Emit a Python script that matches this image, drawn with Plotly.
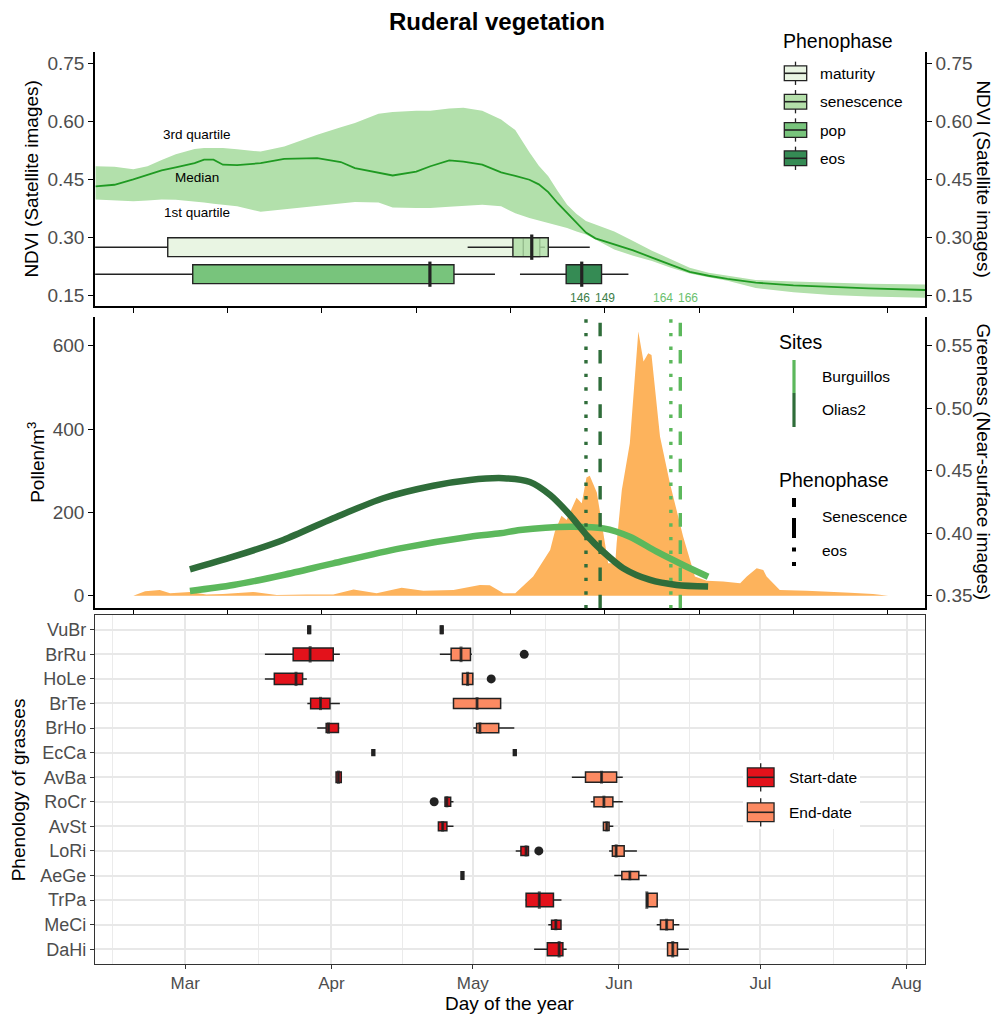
import plotly.graph_objects as go

W, H = 994, 1015
FONT = "Liberation Sans, Arial, sans-serif"


def fx(x):
    return x / W


def fy(y):
    return 1 - y / H


# ---------------- DATA ----------------
# Top panel: NDVI (satellite) by day of year
ndvi_doy = [42, 46, 50, 53, 56, 59, 63, 65, 67, 69, 72, 77, 82, 89, 94, 97, 102, 105, 110, 113,
            117, 120, 124, 128, 131, 134, 136, 138, 140, 142, 144, 146, 148, 152, 156, 160, 164,
            168, 172, 176, 182, 190, 198, 206, 218]
ndvi_median = [0.432, 0.436, 0.450, 0.461, 0.473, 0.481, 0.492, 0.501, 0.501, 0.488, 0.487, 0.492,
               0.503, 0.505, 0.495, 0.479, 0.467, 0.460, 0.470, 0.484, 0.499, 0.496, 0.488, 0.468,
               0.459, 0.449, 0.437, 0.417, 0.388, 0.362, 0.337, 0.312, 0.297, 0.281, 0.266, 0.247,
               0.228, 0.210, 0.200, 0.192, 0.182, 0.175, 0.171, 0.167, 0.163]
ndvi_q3 = [0.484, 0.483, 0.476, 0.484, 0.500, 0.515, 0.529, 0.531, 0.531, 0.531, 0.528, 0.522,
           0.535, 0.566, 0.585, 0.596, 0.620, 0.625, 0.628, 0.628, 0.634, 0.636, 0.628, 0.605,
           0.578, 0.520, 0.485, 0.458, 0.420, 0.384, 0.360, 0.342, 0.333, 0.315, 0.290, 0.265,
           0.243, 0.221, 0.208, 0.200, 0.189, 0.185, 0.182, 0.179, 0.177]
ndvi_q1 = [0.398, 0.396, 0.393, 0.395, 0.398, 0.397, 0.393, 0.390, 0.387, 0.384, 0.380, 0.366,
           0.372, 0.380, 0.387, 0.391, 0.390, 0.377, 0.376, 0.376, 0.379, 0.381, 0.384, 0.380,
           0.362, 0.350, 0.344, 0.338, 0.330, 0.324, 0.315, 0.307, 0.294, 0.268, 0.252, 0.238,
           0.221, 0.206, 0.196, 0.187, 0.168, 0.157, 0.150, 0.146, 0.143]

# Phenophase boxplots (day of year)
pheno_names = ["maturity", "senescence", "pop", "eos"]
pheno_low = [41.9, 120.9, 41.9, 132.0]
pheno_q1 = [57.3, 130.5, 62.6, 141.8]
pheno_med = [132.7, 134.5, 112.9, 145.1]
pheno_q3 = [136.2, 138.0, 118.0, 149.3]
pheno_high = [137.3, 146.8, 126.7, 155.0]
pheno_row = [0.274, 0.274, 0.204, 0.204]

# Near-surface phenophase dates (Olias2 / Burguillos)
site_phase_doy = [146, 149, 164, 166]
site_phase_site = ["Olias2", "Olias2", "Burguillos", "Burguillos"]
site_phase_kind = ["eos", "Senescence", "eos", "Senescence"]

# Middle panel: pollen concentration
pollen_doy = [50, 52.5, 55.6, 57.8, 62, 65.5, 69, 75.4, 80.4, 86.8, 92.4, 96.7, 101.6, 106.9,
              111.5, 117.9, 123.5, 125.6, 128.5, 131, 134.8, 138.4, 139.4, 140.8, 141.9, 144,
              145.1, 146.1, 146.8, 148.3, 150.0, 150.7, 152.2, 152.5, 153.6, 155.3, 157.1, 158.2,
              159.2, 159.9, 161.7, 163.8, 166.6, 169.1, 171.6, 175.1, 178.7, 180.1, 182.2, 183.6,
              184.3, 187.1, 192.8, 196.3, 202, 206.9, 210.1]
pollen_conc = [0, 11, 14, 6, 9, 3, 4, 9, 2, 3, 3, 15, 6, 19, 12, 14, 26, 25, 6, 6, 46, 110, 154,
               192, 182, 235, 222, 284, 288, 248, 128, 78, 78, 126, 254, 366, 634, 562, 582, 578,
               382, 270, 142, 46, 36, 34, 30, 46, 66, 62, 46, 14, 12, 10, 7, 4, 0]

# Greenness (near-surface images)
olias_doy = [62, 71.2, 81.8, 92.4, 103, 113.6, 121.4, 128.5, 134.1, 138.4, 142.6, 146.1, 149.7,
             153.9, 159.6, 165.2, 171.9]
olias_green = [0.3711, 0.3812, 0.3946, 0.4120, 0.4280, 0.4380, 0.4426, 0.4440, 0.4410, 0.4306,
               0.4146, 0.3986, 0.3850, 0.3720, 0.3626, 0.3586, 0.3573]
burg_doy = [62, 71.2, 81.8, 92.4, 106.6, 121.4, 127.8, 132, 142.6, 149.7, 155.3, 161, 166.6, 171.9]
burg_green = [0.3538, 0.3586, 0.3666, 0.3759, 0.3879, 0.3972, 0.3999, 0.4026, 0.4052, 0.4039,
              0.3972, 0.3852, 0.3746, 0.3652]

# Bottom panel: phenology of grasses
grass_species = ["VuBr", "BrRu", "HoLe", "BrTe", "BrHo", "EcCa", "AvBa", "RoCr", "AvSt", "LoRi",
                 "AeGe", "TrPa", "MeCi", "DaHi"]
start_low = [87.0, 77.9, 77.9, 86.9, 89.0, 100.6, 93.0, 116.1, 114.7, 131.1, 119.5, 133.1, 138.0, 135.0]
start_q1 = [87.0, 83.9, 79.9, 87.6, 90.9, 100.6, 93.0, 116.1, 114.7, 132.2, 119.5, 133.3, 138.7, 137.8]
start_med = [87.3, 87.5, 84.5, 89.7, 91.4, 100.9, 93.5, 116.5, 115.6, 133.3, 119.8, 136.1, 139.6, 140.3]
start_q3 = [87.6, 92.4, 85.9, 91.7, 93.5, 101.2, 94.1, 117.3, 116.5, 133.8, 120.1, 139.1, 140.7, 141.1]
start_high = [87.6, 93.8, 86.8, 93.8, 93.7, 101.2, 94.1, 117.9, 117.9, 133.8, 120.1, 140.8, 140.8, 141.9]

end_low = [115.1, 115.0, 119.8, 117.9, 122.1, 130.6, 143.0, 147.0, 149.7, 150.9, 152.0, 158.9, 161.0, 163.3]
end_q1 = [115.1, 117.4, 119.8, 117.9, 122.8, 130.6, 145.9, 147.7, 149.7, 151.6, 153.6, 158.9, 161.8, 163.3]
end_med = [115.4, 119.5, 120.9, 122.9, 123.5, 130.9, 149.3, 149.8, 150.4, 152.4, 155.3, 158.9, 163.1, 164.4]
end_q3 = [115.7, 121.5, 122.0, 127.9, 127.5, 131.2, 152.5, 151.7, 150.9, 154.1, 157.2, 161.1, 164.5, 165.4]
end_high = [115.7, 121.8, 122.0, 127.9, 130.8, 131.2, 153.8, 153.8, 151.8, 156.8, 158.9, 161.1, 165.8, 167.8]

outlier_species = ["BrRu", "HoLe", "RoCr", "LoRi"]
outlier_doy = [132.9, 125.9, 113.8, 136.0]

month_labels = ["Mar", "Apr", "May", "Jun", "Jul", "Aug"]
month_doy = [61, 92, 122, 153, 183, 214]
month_minor = [45.5, 76.5, 107, 137.5, 168, 198.5]
top_ticks = list(range(50, 211, 20))

# ---------------- STYLE ----------------
RIB = "#b2e0ab"
MED = "#1f9a22"
PHENO_FILL = ["#e9f5e3", "rgba(176,222,166,0.82)", "#78c47c", "#358b54"]
PHENO_KEY = ["#e9f5e3", "#b4dfaa", "#78c47c", "#358b54"]
OLIAS = "#2f6d3a"
BURG = "#5cb85c"
POLLEN = "#fdb35c"
START = "#e3121b"
END = "#fc8a62"
EDGE = "#222222"
TICK = "#4d4d4d"
ROW_PX = 24.58  # pixel height of one category row in the bottom panel
# box heights (varwidth look) in pixels, per species
start_box_px = [7.5, 12.8, 11.2, 10.5, 9.0, 5.8, 10.5, 9.0, 8.6, 9.0, 7.5, 13.5, 9.0, 12.8]
end_box_px = [7.5, 12.2, 11.2, 10.2, 9.2, 5.8, 10.2, 9.8, 8.2, 10.5, 7.8, 13.5, 9.5, 12.8]

XR = [41.87, 217.9]
XD = [fx(95), fx(925)]

fig = go.Figure()

# ---- top panel ----
fig.add_trace(go.Scatter(x=ndvi_doy, y=ndvi_q3, mode="lines", line=dict(width=0, color=RIB),
                         xaxis="x", yaxis="y", hoverinfo="skip"))
fig.add_trace(go.Scatter(x=ndvi_doy, y=ndvi_q1, mode="lines", line=dict(width=0, color=RIB),
                         fill="tonexty", fillcolor=RIB, xaxis="x", yaxis="y", hoverinfo="skip"))
for i, name in enumerate(pheno_names):
    fig.add_trace(go.Box(y=[pheno_row[i]], q1=[pheno_q1[i]], median=[pheno_med[i]],
                         q3=[pheno_q3[i]], lowerfence=[pheno_low[i]], upperfence=[pheno_high[i]],
                         orientation="h", width=0.049, fillcolor=PHENO_FILL[i],
                         line=dict(color=EDGE, width=1.4), whiskerwidth=0, boxpoints=False,
                         name=name, xaxis="x", yaxis="y"))
# thick medians (maturity median stays faint beneath the senescence box)
fig.add_trace(go.Scatter(x=pheno_med[1:], y=pheno_row[1:], mode="markers",
                         marker=dict(symbol="line-ns", size=18, line=dict(width=3.2, color=EDGE)),
                         xaxis="x", yaxis="y2", hoverinfo="skip"))
fig.add_trace(go.Scatter(x=ndvi_doy, y=ndvi_median, mode="lines", line=dict(width=1.8, color=MED),
                         xaxis="x", yaxis="y2", hoverinfo="skip"))

# ---- middle panel ----
fig.add_trace(go.Scatter(x=pollen_doy, y=pollen_conc, mode="none", fill="tozeroy",
                         fillcolor=POLLEN, xaxis="x2", yaxis="y3", hoverinfo="skip"))
fig.add_trace(go.Scatter(x=burg_doy, y=burg_green, mode="lines",
                         line=dict(width=6.5, color=BURG, shape="spline", smoothing=0.8),
                         xaxis="x2", yaxis="y4", hoverinfo="skip"))
fig.add_trace(go.Scatter(x=olias_doy, y=olias_green, mode="lines",
                         line=dict(width=6.5, color=OLIAS, shape="spline", smoothing=0.8),
                         xaxis="x2", yaxis="y4", hoverinfo="skip"))

# ---- bottom panel ----
phases = [
    (start_low, start_q1, start_med, start_q3, start_high, START, start_box_px),
    (end_low, end_q1, end_med, end_q3, end_high, END, end_box_px),
]
for lo, q1, md, q3, hi, col, hpx in phases:
    for j, sp in enumerate(grass_species):
        fig.add_trace(go.Box(y=[sp], q1=[q1[j]], median=[md[j]], q3=[q3[j]],
                             lowerfence=[lo[j]], upperfence=[hi[j]], orientation="h",
                             width=hpx[j] / ROW_PX, fillcolor=col,
                             line=dict(color=EDGE, width=1.5), whiskerwidth=0,
                             boxpoints=False, xaxis="x3", yaxis="y5"))
fig.add_trace(go.Scatter(x=start_med + end_med, y=grass_species + grass_species, mode="markers",
                         marker=dict(symbol="line-ns", size=[h - 1 for h in start_box_px + end_box_px],
                                     line=dict(width=3, color=EDGE)),
                         xaxis="x3", yaxis="y5", hoverinfo="skip"))
fig.add_trace(go.Scatter(x=outlier_doy, y=outlier_species, mode="markers",
                         marker=dict(size=9, color=EDGE), xaxis="x3", yaxis="y5", hoverinfo="skip"))

# ---------------- SHAPES / ANNOTATIONS ----------------
shapes = []
ann = []

for d, site, kind in zip(site_phase_doy, site_phase_site, site_phase_kind):
    col = OLIAS if site == "Olias2" else BURG
    dash = "3.4px,10.2px" if kind == "eos" else "13.6px,13.6px"
    shapes.append(dict(type="line", xref="x2", yref="y3 domain", x0=d, x1=d, y0=0, y1=1,
                       line=dict(color=col, width=3.4, dash=dash), layer="above"))

lab_shift = [-6, 5, -7.5, 8]
for d, site, sh in zip(site_phase_doy, site_phase_site, lab_shift):
    col = "#3b7d47" if site == "Olias2" else "#6abf6e"
    ann.append(dict(xref="x", yref="y", x=d, y=0.143, xshift=sh, text=str(d), showarrow=False,
                    xanchor="center", yanchor="middle", font=dict(family=FONT, size=12, color=col)))

for s, yv in zip(["3rd quartile", "Median", "1st quartile"], [0.567, 0.454, 0.365]):
    ann.append(dict(xref="x", yref="y", x=63.5, y=yv, text=s, showarrow=False, xanchor="center",
                    yanchor="middle", font=dict(family=FONT, size=13.5, color="black")))


def rect(x0, y0, x1, y1, fill, lc=EDGE, lw=1.3):
    shapes.append(dict(type="rect", xref="paper", yref="paper", x0=fx(x0), x1=fx(x1),
                       y0=fy(y1), y1=fy(y0), fillcolor=fill, line=dict(color=lc, width=lw),
                       layer="above"))


def seg(x0, y0, x1, y1, color, w):
    shapes.append(dict(type="line", xref="paper", yref="paper", x0=fx(x0), y0=fy(y0),
                       x1=fx(x1), y1=fy(y1), line=dict(color=color, width=w), layer="above"))


def box_key(cx, cy, w, h, wh, fill):
    seg(cx, cy - h / 2 - wh, cx, cy - h / 2, EDGE, 1.3)
    seg(cx, cy + h / 2, cx, cy + h / 2 + wh, EDGE, 1.3)
    rect(cx - w / 2, cy - h / 2, cx + w / 2, cy + h / 2, fill)
    seg(cx - w / 2, cy, cx + w / 2, cy, EDGE, 1.6)


def text(x, y, s, size, color="black", xanchor="left", angle=0):
    ann.append(dict(xref="paper", yref="paper", x=fx(x), y=fy(y), text=s, showarrow=False,
                    xanchor=xanchor, yanchor="middle", textangle=angle,
                    font=dict(family=FONT, size=size, color=color)))


# top legend
text(781, 41, "Phenophase", 19.5)
for name, col, cy in zip(pheno_names, PHENO_KEY, [73.3, 101.7, 130, 158.3]):
    box_key(795.5, cy, 22.4, 14.7, 4.3, col)
    text(818, cy, name, 15.5)

# middle legend
text(776.5, 341.7, "Sites", 19.5)
seg(794, 360, 794, 393, BURG, 3.2)
seg(794, 393, 794, 427, OLIAS, 3.2)
text(819.5, 376.7, "Burguillos", 15.5)
text(819.5, 410, "Olias2", 15.5)
text(776.5, 480, "Phenophase", 19.5)
seg(794, 498, 794, 507, "black", 4)
seg(794, 518, 794, 538, "black", 4)
seg(794, 547.5, 794, 551.5, "black", 4)
seg(794, 562, 794, 566, "black", 4)
text(819.5, 516, "Senescence", 15.5)
text(819.5, 550, "eos", 15.5)

# bottom legend
rect(743, 760, 860, 829, "white", lc="white", lw=0)
box_key(760.7, 777.3, 26.7, 18.7, 4.8, START)
box_key(760.7, 812.3, 26.7, 18.7, 4.8, END)
text(786.5, 777.3, "Start-date", 15.5)
text(786.5, 812.3, "End-date", 15.5)

# axis titles
text(31.7, 178.9, "NDVI (Satellite images)", 19, xanchor="center", angle=-90)
text(983.5, 178.9, "NDVI (Satellite images)", 19, xanchor="center", angle=90)
text(35.8, 462, "Pollen/m<sup>3</sup>", 19, xanchor="center", angle=-90)
text(983.5, 462, "Greeness (Near-surface images)", 19, xanchor="center", angle=90)
text(18.8, 789.5, "Phenology of grasses", 19, xanchor="center", angle=-90)
text(510, 1003.5, "Day of the year", 19, xanchor="center")

# ---------------- LAYOUT ----------------
tickfont = dict(family=FONT, size=19, color=TICK)
classic_x = dict(range=XR, domain=XD, showline=True, linecolor="black", linewidth=1.5,
                 ticks="outside", ticklen=5, tickwidth=1.3, tickcolor="black", tickvals=top_ticks,
                 showticklabels=False, showgrid=False, zeroline=False)
top_y_ticks = [0.15, 0.30, 0.45, 0.60, 0.75]
top_dom = [fy(306), fy(51.7)]
mid_dom = [fy(608.3), fy(317.3)]
bot_dom = [fy(964), fy(615)]
classic_y = dict(showline=True, linecolor="black", linewidth=1.5, ticks="outside", ticklen=5,
                 tickwidth=1.3, tickcolor="black", showgrid=False, zeroline=False, tickfont=tickfont)

green_ticks = [0.35, 0.40, 0.45, 0.50, 0.55]
fig.update_layout(
    width=W, height=H, autosize=False, margin=dict(l=0, r=0, t=0, b=0),
    paper_bgcolor="white", plot_bgcolor="white", showlegend=False, boxmode="overlay",
    title=dict(text="<b>Ruderal vegetation</b>", x=0.5, xanchor="center", y=fy(22),
               yanchor="middle", font=dict(family=FONT, size=24, color="black")),
    xaxis=dict(anchor="y", **classic_x),
    xaxis2=dict(anchor="y3", **classic_x),
    xaxis3=dict(anchor="y5", range=XR, domain=XD, tickvals=month_doy, ticktext=month_labels,
                showgrid=True, gridcolor="#e8e8e8", gridwidth=1.8,
                minor=dict(tickvals=month_minor, showgrid=True, gridcolor="#ebebeb", gridwidth=1.2,
                           ticks=""),
                showline=True, mirror=True, linecolor="#333333", linewidth=1.1, ticks="outside",
                ticklen=4, tickwidth=1.1, tickcolor="#333333", zeroline=False,
                tickfont=dict(family=FONT, size=17, color=TICK)),
    yaxis=dict(domain=top_dom, range=[0.1215, 0.7811], tickvals=top_y_ticks,
               ticktext=[f"{v:.2f}" for v in top_y_ticks], anchor="x", **classic_y),
    yaxis2=dict(domain=top_dom, range=[0.1215, 0.7811], tickvals=top_y_ticks,
                ticktext=[f"{v:.2f}" for v in top_y_ticks], overlaying="y", side="right",
                anchor="x", **classic_y),
    yaxis3=dict(domain=mid_dom, range=[-30.2, 668.2], tickvals=[0, 200, 400, 600], anchor="x2",
                **classic_y),
    yaxis4=dict(domain=mid_dom, range=[0.35 - 30.2 / 3000, 0.35 + 668.2 / 3000],
                tickvals=green_ticks, ticktext=[f"{v:.2f}" for v in green_ticks],
                overlaying="y3", side="right", anchor="x2", **classic_y),
    yaxis5=dict(domain=bot_dom, type="category", categoryorder="array",
                categoryarray=grass_species, range=[13.6, -0.6], anchor="x3",
                showgrid=True, gridcolor="#e8e8e8", gridwidth=1.8, showline=True, mirror=True,
                linecolor="#333333", linewidth=1.1, ticks="outside", ticklen=4, tickwidth=1.1,
                tickcolor="#333333", zeroline=False,
                tickfont=dict(family=FONT, size=18, color=TICK)),
    shapes=shapes, annotations=ann,
)

fig.write_html("out.html")
